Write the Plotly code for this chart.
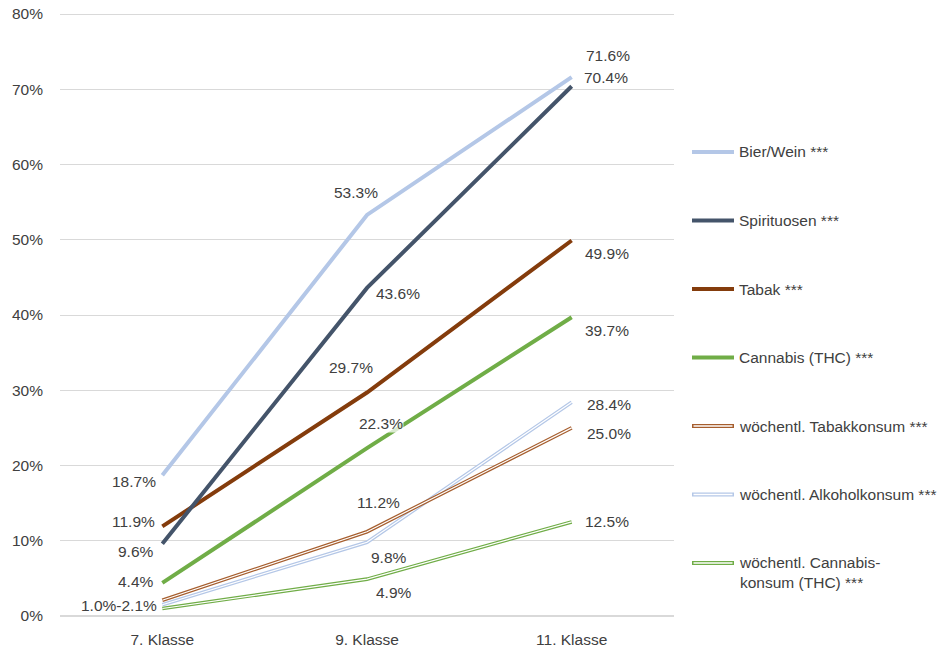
import plotly.graph_objects as go

categories = ["7. Klasse", "9. Klasse", "11. Klasse"]

series_names = [
    "Bier/Wein ***",
    "Spirituosen ***",
    "Tabak ***",
    "Cannabis (THC) ***",
    "wöchentl. Tabakkonsum ***",
    "wöchentl. Alkoholkonsum ***",
    "wöchentl. Cannabis-<br>konsum (THC) ***",
]

bier_wein = [18.7, 53.3, 71.6]
spirituosen = [9.6, 43.6, 70.4]
tabak = [11.9, 29.7, 49.9]
cannabis = [4.4, 22.3, 39.7]
woech_tabak = [2.1, 11.2, 25.0]
woech_alkohol = [1.5, 9.8, 28.4]
woech_cannabis = [1.0, 4.9, 12.5]

y_ticks = [0, 10, 20, 30, 40, 50, 60, 70, 80]
y_tick_labels = [f"{v}%" for v in y_ticks]

all_series = [bier_wein, spirituosen, tabak, cannabis,
              woech_tabak, woech_alkohol, woech_cannabis]

colors = ["#B4C7E7", "#44546A", "#843C0C", "#70AD47",
          "#A65E2E", "#B4C7E7", "#70AD47"]
double = [False, False, False, False, True, True, True]

FONT = "Liberation Sans, Arial, sans-serif"
TXT = "#404040"
FS = 15.5

W, H = 946, 649
ML, MR, MT, MB = 60, 272, 12, 33
PW, PH = W - ML - MR, H - MT - MB
Y_TOP = 80 + 2 / 7.525   # keeps the 80% gridline just inside the plot


def px2paper_x(px):
    return (px - ML) / PW


def px2paper_y(py):
    return (H - MB - py) / PH


fig = go.Figure()

order = [6, 5, 4, 3, 2, 1, 0]
for i in order:
    vals = all_series[i]
    if double[i]:
        fig.add_trace(go.Scatter(x=categories, y=vals, mode="lines",
                                 name=series_names[i], showlegend=False,
                                 line=dict(color=colors[i], width=3.6)))
        fig.add_trace(go.Scatter(x=categories, y=vals, mode="lines",
                                 showlegend=False, hoverinfo="skip",
                                 line=dict(color="white", width=1.2)))
    else:
        fig.add_trace(go.Scatter(x=categories, y=vals, mode="lines",
                                 name=series_names[i], showlegend=False,
                                 line=dict(color=colors[i], width=4)))

# data labels: (series index, category index, anchor, xshift, yshift, text override)
label_specs = [
    (0, 0, "right", -5, -6, None),
    (2, 0, "right", -6, 4.5, None),
    (1, 0, "right", -7, -8, None),
    (3, 0, "right", -7, 1, None),
    (6, 0, "right", -4, 2.5, f"{woech_cannabis[0]:.1f}%-{woech_tabak[0]:.1f}%"),
    (0, 1, "center", -11, 22, None),
    (1, 1, "center", 31, -6, None),
    (2, 1, "center", -16, 25, None),
    (3, 1, "center", 14, 25, None),
    (4, 1, "center", 11, 29, None),
    (5, 1, "center", 22, -15, None),
    (6, 1, "center", 27, -13, None),
    (0, 2, "left", 13, 22, None),
    (1, 2, "left", 11, 9, None),
    (2, 2, "left", 12, -12.5, None),
    (3, 2, "left", 12, -13, None),
    (5, 2, "left", 14, -2, None),
    (4, 2, "left", 14, -6, None),
    (6, 2, "left", 12, 0, None),
]

for si, ci, anchor, xs, ys, override in label_specs:
    v = all_series[si][ci]
    txt = override if override else f"{v:.1f}%"
    fig.add_annotation(
        x=categories[ci], y=v, xref="x", yref="y", text=txt,
        showarrow=False, xanchor=anchor, yanchor="middle",
        xshift=xs, yshift=ys,
        font=dict(family=FONT, size=FS, color=TXT),
        bgcolor="rgba(255,255,255,0.75)" if (si == 3 and ci == 1) else None,
        borderpad=0,
    )

# manual legend (to show double-line symbols)
leg_y0 = 152
leg_step = 68.5
for k in range(len(series_names)):
    ypx = leg_y0 + k * leg_step
    yp = px2paper_y(ypx)
    x0p, x1p = px2paper_x(692), px2paper_x(734)
    fig.add_shape(type="line", xref="paper", yref="paper",
                  x0=x0p, x1=x1p, y0=yp, y1=yp,
                  line=dict(color=colors[k], width=4))
    if double[k]:
        fig.add_shape(type="line", xref="paper", yref="paper",
                      x0=px2paper_x(693.5), x1=px2paper_x(732.5), y0=yp, y1=yp,
                      line=dict(color="white", width=1.3))
    multi = "<br>" in series_names[k]
    fig.add_annotation(
        x=px2paper_x(737), y=yp, xref="paper", yref="paper",
        text=series_names[k], showarrow=False,
        xanchor="left", yanchor="top" if multi else "middle",
        yshift=11 if multi else 0,
        align="left",
        font=dict(family=FONT, size=FS, color=TXT),
    )

fig.update_layout(
    width=W, height=H,
    margin=dict(l=ML, r=MR, t=MT, b=MB, pad=0),
    paper_bgcolor="white", plot_bgcolor="white",
    showlegend=False,
    font=dict(family=FONT, size=FS, color=TXT),
    xaxis=dict(type="category", range=[-0.5, 2.5], showgrid=False,
               showline=False, zeroline=False, ticks="",
               automargin=False, ticklabelstandoff=12,
               tickfont=dict(family=FONT, size=FS, color=TXT)),
    yaxis=dict(range=[0, Y_TOP], tickvals=y_ticks, ticktext=y_tick_labels,
               showgrid=True, gridcolor="#D9D9D9", gridwidth=1,
               zeroline=True, zerolinecolor="#D9D9D9", zerolinewidth=1.5,
               showline=False, ticks="", automargin=False,
               ticklabelstandoff=16,
               tickfont=dict(family=FONT, size=FS, color=TXT)),
)

fig.write_html(
    "out.html",
    config={"displayModeBar": False},
    post_script="document.body.style.margin='0';document.body.style.overflow='hidden';",
)
